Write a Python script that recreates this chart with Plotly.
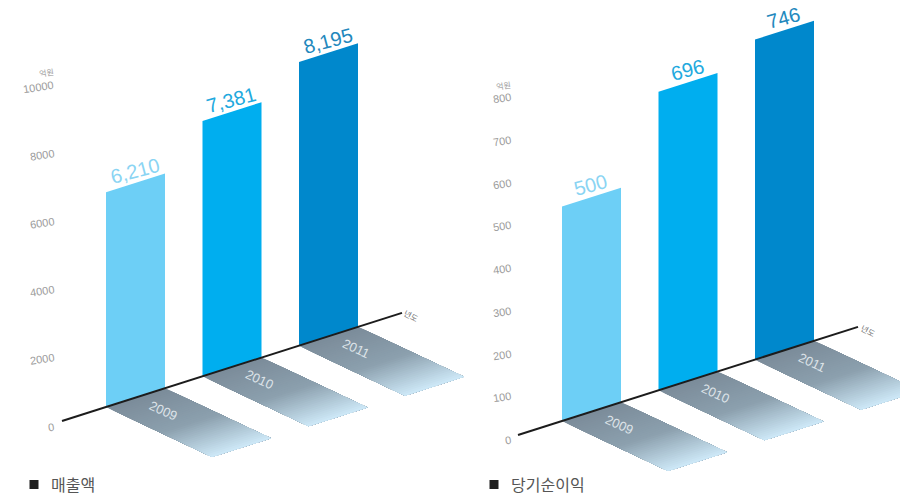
import plotly.graph_objects as go

years = ["2009", "2010", "2011"]
sales = [6210, 7381, 8195]
profit = [500, 696, 746]
sales_ticks = [0, 2000, 4000, 6000, 8000, 10000]
profit_ticks = [0, 100, 200, 300, 400, 500, 600, 700, 800]
sales_title = "매출액"
profit_title = "당기순이익"
unit_label = "억원"
year_unit = "년도"

W, H = 900, 497
SLOPE = 0.318
BAR_START, BAR_STEP, BAR_W = 44, 96.5, 59
AXIS_LEN = 340
SHADOW_DX, SHADOW_DY = 106, 50
BAR_COLORS = ["#6dcff6", "#00aeef", "#0088cc"]
LABEL_COLORS = ["#8ad4f3", "#22a9de", "#2388bd"]
STEPS = 40


def lerp(a, b, t):
    return tuple(a[i] + (b[i] - a[i]) * t for i in range(3))


def shadow_color(t):
    near, mid, far = (124, 141, 155), (140, 160, 174), (208, 235, 250)
    c = lerp(near, mid, t / 0.5) if t < 0.5 else lerp(mid, far, (t - 0.5) / 0.5)
    return "rgb(%d,%d,%d)" % c


fig = go.Figure()
annotations = []


def panel(xa, ya, ox, oy, k, tick_k, tick_oy, tick_x, values, ticks, title, sq_x, name, unit_y, unit_x, yr_unit_pos):
    to_y = lambda px: (oy - px) / k
    base = lambda x: oy - SLOPE * (x - ox)
    kw = dict(xaxis=xa, yaxis=ya, mode="lines", hoverinfo="skip", showlegend=False)
    axref = dict(xref=xa, yref=ya, showarrow=False)

    for i, v in enumerate(values):
        x0 = ox + BAR_START + i * BAR_STEP
        x1 = x0 + BAR_W
        # shadow: nested strips painted from the axis outward
        for s in range(STEPS):
            t = s / STEPS
            xs = [x0 + SHADOW_DX * t, x1 + SHADOW_DX * t, x1 + SHADOW_DX, x0 + SHADOW_DX, x0 + SHADOW_DX * t]
            ys = [base(x0) + SHADOW_DY * t, base(x1) + SHADOW_DY * t, base(x1) + SHADOW_DY,
                  base(x0) + SHADOW_DY, base(x0) + SHADOW_DY * t]
            fig.add_trace(go.Scatter(x=xs, y=[to_y(p) for p in ys], fill="toself",
                                     fillcolor=shadow_color(t), line=dict(width=0), **kw))
        # bar
        xs = [x0, x1, x1, x0, x0]
        ys = [to_y(base(x0)), to_y(base(x1)), to_y(base(x1)) + v, to_y(base(x0)) + v, to_y(base(x0))]
        fig.add_trace(go.Scatter(x=xs, y=ys, fill="toself", fillcolor=BAR_COLORS[i],
                                 line=dict(width=0), name=f"{name} {years[i]}",
                                 xaxis=xa, yaxis=ya, mode="lines", hoverinfo="skip", showlegend=False))
        cx = (x0 + x1) / 2
        annotations.append(dict(x=cx - 1, y=to_y(base(cx) - 12) + v, text=f"{v:,}", textangle=-15,
                                font=dict(family="Liberation Sans", size=20, color=LABEL_COLORS[i]), **axref))
        annotations.append(dict(x=x1 - 2, y=to_y(base(x1) + 22), text=years[i], textangle=25,
                                font=dict(family="Liberation Sans", size=13, color="#dde3e8"), **axref))

    fig.add_trace(go.Scatter(x=[ox, ox + AXIS_LEN], y=[to_y(base(ox)), to_y(base(ox + AXIS_LEN))],
                             line=dict(color="#1c1c1c", width=2), **kw))
    for t in ticks:
        annotations.append(dict(x=tick_x, y=to_y(tick_oy - tick_k * t), text=str(t), xanchor="right",
                                textangle=-9, font=dict(family="Liberation Sans", size=11, color="#9c9c9c"), **axref))
    annotations.append(dict(x=unit_x, y=to_y(unit_y), text=unit_label, textangle=-9,
                            font=dict(family="Noto Sans CJK KR", size=8, color="#9c9c9c"), **axref))
    annotations.append(dict(x=yr_unit_pos[0], y=to_y(yr_unit_pos[1]), text=year_unit, textangle=28,
                            font=dict(family="Noto Sans CJK KR", size=8, color="#777777"), **axref))
    fig.add_trace(go.Scatter(x=[sq_x], y=[to_y(484.5)], mode="markers",
                             marker=dict(symbol="square", size=9, color="#1e1e1e"),
                             xaxis=xa, yaxis=ya, hoverinfo="skip", showlegend=False))
    annotations.append(dict(x=sq_x + 15, y=to_y(484), text=title, xanchor="left",
                            font=dict(family="Noto Sans CJK KR", size=16, color="#555555"), **axref))
    return [to_y(H), to_y(0)]


r1 = panel("x", "y", 62, 421, 0.0346, 0.034, 427, 57, sales, sales_ticks, sales_title, 34, "매출액", 72, 46, (411, 315))
r2 = panel("x2", "y2", 518, 435, 0.429, 0.4275, 440, 514, profit, profit_ticks, profit_title, 494, "당기순이익", 85, 503, (868, 330))

hidden = dict(visible=False, domain=[0, 1], fixedrange=True)
xr = [0, W]
fig.update_layout(
    width=W, height=H, margin=dict(l=0, r=0, t=0, b=0), autosize=False,
    paper_bgcolor="white", plot_bgcolor="white", showlegend=False, annotations=annotations,
    xaxis=dict(range=xr, **hidden), yaxis=dict(range=r1, **hidden),
    xaxis2=dict(range=xr, anchor="y2", overlaying="x", **hidden),
    yaxis2=dict(range=r2, anchor="x2", overlaying="y", **hidden),
)
fig.write_html("out.html", default_width=f"{W}px", default_height=f"{H}px",
               config=dict(displayModeBar=False, staticPlot=True),
               post_script="document.body.style.margin='0';document.documentElement.style.overflow='hidden';")
